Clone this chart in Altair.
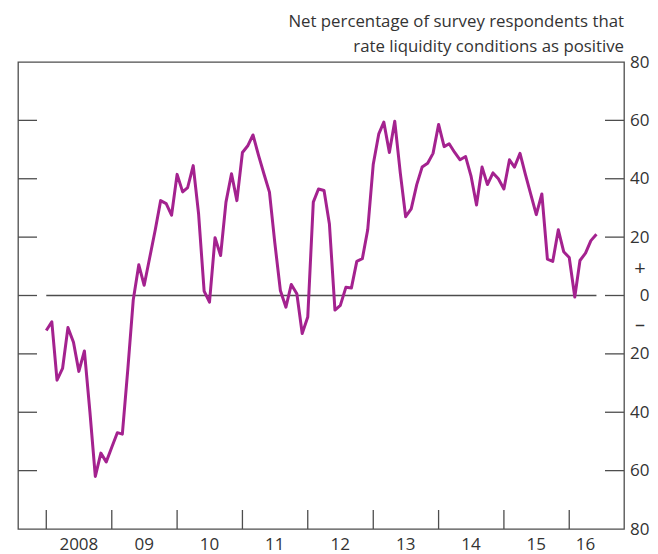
import altair as alt
import pandas as pd

# ---- data (monthly, Jan 2008 - Jun 2016) ----
start_month = "2008-01-01"
values = [
    -12, -9, -29, -25, -11, -16, -26, -19, -40, -62, -54, -57,          # 2008
    -52, -47, -47.5, -25, -1.5, 10.5, 3.5, 13, 22.5, 32.5, 31.5, 27.5,  # 2009
    41.5, 35.5, 37, 44.5, 28, 1.5, -2.3, 19.8, 13.7, 32, 41.7, 32.5,    # 2010
    49, 51.4, 55, 48, 41.7, 35.4, 18, 1.7, -4, 3.8, 0.6, -13,           # 2011
    -7.4, 32, 36.5, 36, 24.5, -5, -3.4, 2.8, 2.6, 11.7, 12.6, 22.5,     # 2012
    45, 55.4, 59.4, 49, 59.7, 42, 27, 29.7, 38, 44, 45.3, 48.7,         # 2013
    58.6, 51, 52, 49, 46.5, 47.6, 41, 31, 44, 38, 42, 40,               # 2014
    36.5, 46.5, 44, 48.7, 41.5, 34.5, 27.7, 34.8, 12.5, 11.7, 22.5, 15, # 2015
    13, -0.5, 12, 14.5, 18.8, 21,                                       # 2016
]
dates = pd.date_range(start_month, periods=len(values), freq="MS")

year_ticks = ["2008-01-01", "2009-01-01", "2010-01-01", "2011-01-01", "2012-01-01",
              "2013-01-01", "2014-01-01", "2015-01-01", "2016-01-01"]
year_labels = ["2008", "09", "10", "11", "12", "13", "14", "15", "16"]
year_label_pos = ["2008-07-01", "2009-07-01", "2010-07-01", "2011-07-01", "2012-07-01",
                  "2013-07-01", "2014-07-01", "2015-07-01", "2016-04-01"]
y_tick_values = [-60, -40, -20, 0, 20, 40, 60]
y_label_values = [-80, -60, -40, -20, 0, 20, 40, 60, 80]
sign_labels = ["+", "\u2013"]
sign_values = [9, -10]
title_lines = ["Net percentage of survey respondents that",
               "rate liquidity conditions as positive"]

W, H = 606, 467
FONT = "Open Sans"
TXT = "#333333"
AX = "#4d4d4d"
LINE = "#A4228F"

df = pd.DataFrame({"date": dates, "value": values})

xscale = alt.Scale(domain=["2007-07-27", "2016-11-02"])
yscale = alt.Scale(domain=[-80, 80], nice=False)
yaxis = alt.Axis(orient="right", values=y_label_values, tickSize=0, domain=False,
                 grid=False, labelExpr="abs(datum.value)", labelAlign="right",
                 labelPadding=25, labelFont=FONT, labelFontSize=17,
                 labelColor=TXT, labelBaseline="middle", title=None)


def Y(field):
    return alt.Y(field, scale=yscale, axis=yaxis, title=None)


line = alt.Chart(df).mark_line(color=LINE, strokeWidth=3, strokeJoin="round").encode(
    x=alt.X("date:T", scale=xscale, axis=None),
    y=Y("value:Q"),
)

zero = alt.Chart(pd.DataFrame({"a": [dates.min()], "b": [dates.max()], "value": [0]})).mark_rule(
    color=AX, strokeWidth=1.3).encode(
    x=alt.X("a:T", scale=xscale, axis=None), x2="b:T", y=Y("value:Q"))

ytk = pd.DataFrame({"value": y_tick_values})
left_ticks = alt.Chart(ytk).mark_rule(color=AX, strokeWidth=1.3).encode(
    y=Y("value:Q"), x=alt.value(0), x2=alt.value(19))
right_ticks = alt.Chart(ytk).mark_rule(color=AX, strokeWidth=1.3).encode(
    y=Y("value:Q"), x=alt.value(W - 19), x2=alt.value(W))

xtk = pd.DataFrame({"d": pd.to_datetime(year_ticks)})
x_ticks = alt.Chart(xtk).mark_rule(color=AX, strokeWidth=1.3).encode(
    x=alt.X("d:T", scale=xscale, axis=None), y=alt.value(H - 19), y2=alt.value(H))

xl = pd.DataFrame({"d": pd.to_datetime(year_label_pos), "t": year_labels})
x_labels = alt.Chart(xl).mark_text(font=FONT, fontSize=17, color=TXT, baseline="middle",
                                   align="center").encode(
    x=alt.X("d:T", scale=xscale, axis=None), y=alt.value(H + 16), text="t:N")

sg = pd.DataFrame({"value": sign_values, "t": sign_labels})
signs = alt.Chart(sg).mark_text(font=FONT, fontSize=20, color=TXT, baseline="middle",
                                align="center").encode(
    y=Y("value:Q"), x=alt.value(W + 16), text="t:N")

title = alt.Chart(pd.DataFrame({"k": [0]})).mark_text(
    text=title_lines, font=FONT, fontSize=16.8, color=TXT, baseline="alphabetic",
    align="right", lineHeight=25).encode(x=alt.value(W), y=alt.value(-35))

chart = alt.layer(zero, left_ticks, right_ticks, x_ticks, line, x_labels, signs, title).properties(
    width=W, height=H,
    autosize=alt.AutoSizeParams(type="none"),
    padding={"left": 10, "top": 54, "right": 26, "bottom": 25},
).configure_view(stroke=AX, strokeWidth=1.3)

chart.save("out.html", embed_options={"renderer": "svg", "actions": False})
